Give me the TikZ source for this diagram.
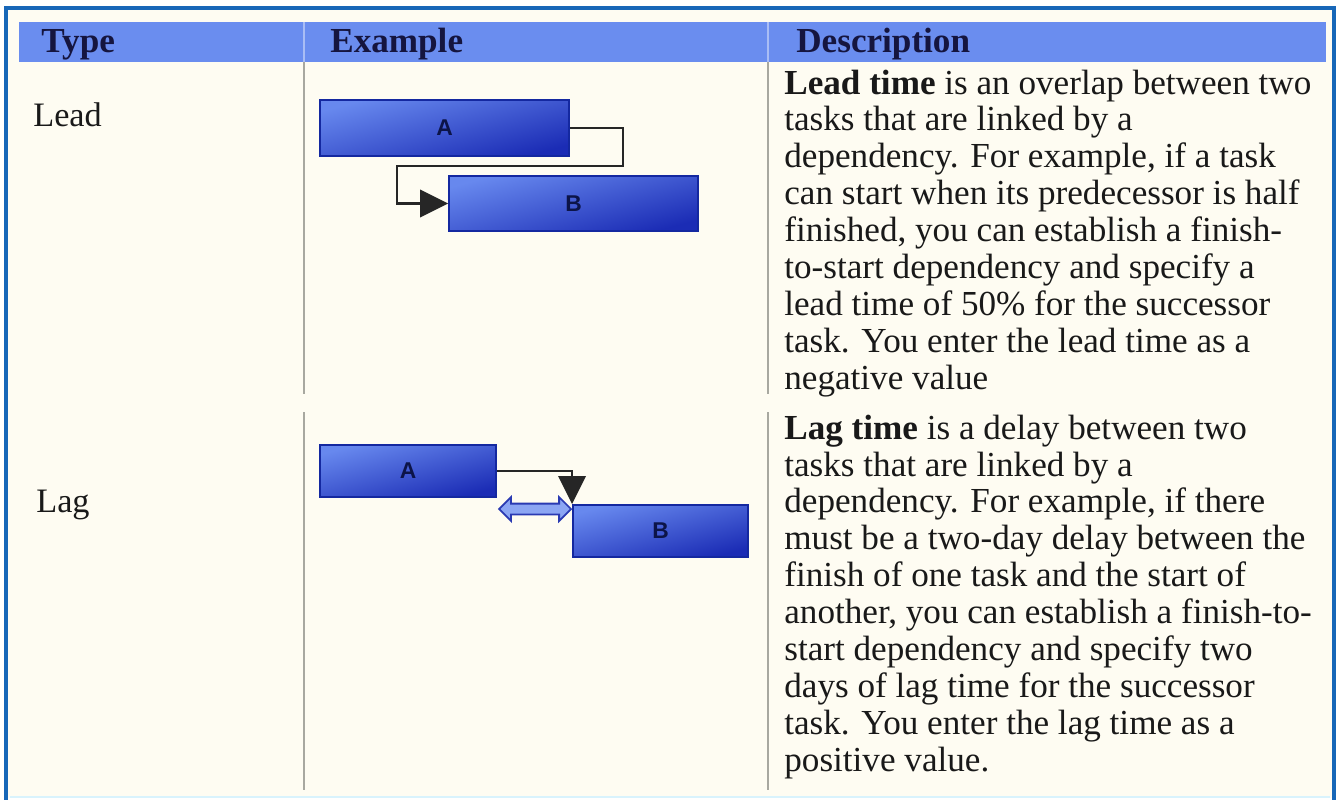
\documentclass[tikz,border=0pt]{standalone}
\usepackage{fontspec}
\setmainfont{Liberation Serif}
\setsansfont{Liberation Sans}
\usetikzlibrary{arrows.meta,shapes.arrows}
\definecolor{framebl}{HTML}{1767B8}
\definecolor{pagebg}{HTML}{FEFCF2}
\definecolor{headbl}{HTML}{6A8DEF}
\definecolor{headln}{HTML}{A9BDF5}
\definecolor{gridln}{HTML}{A8A8A0}
\definecolor{barlt}{HTML}{6788EE}
\definecolor{bardk}{HTML}{1B2CB5}
\definecolor{barln}{HTML}{1428A0}
\definecolor{bartxt}{HTML}{0C1448}
\definecolor{headtxt}{HTML}{15153F}
\definecolor{gapfill}{HTML}{8CA6F3}
\definecolor{gapln}{HTML}{2A3AB2}
\begin{document}
\begin{tikzpicture}[x=0.02cm,y=-0.02cm,
  task/.style={draw=barln,line width=1.1pt,left color=barlt,middle color=barlt,right color=bardk,shading angle=15,
    font=\sffamily\bfseries\fontsize{13}{15}\selectfont,text=bartxt,inner sep=0pt},
  colhead/.style={anchor=base west,inner sep=0pt,font=\bfseries\fontsize{20}{21}\selectfont,text=headtxt},
  typelabel/.style={anchor=base west,inner sep=0pt,font=\fontsize{19.5}{21}\selectfont,text=black!90},
  desc/.style={anchor=base west,inner sep=0pt,align=left,font=\fontsize{20}{20.98}\selectfont,text=black!90},
  link/.style={draw=black!85,line width=1.2pt,-{Triangle[length=0.56cm,width=0.55cm]}}]
  \useasboundingbox (0,0) rectangle (1337,800);
  \fill[white] (0,0) rectangle (1337,800);
  \fill[pagebg] (5,7) rectangle (1335,798);
  \draw[cyan!15,line width=1.2pt] (10,797) -- (1330,797);
  \draw[framebl,line width=2pt] (6,800) -- (6,8) -- (1334,8) -- (1334,800);

  \fill[headbl] (19,22) rectangle (1326,62);
  \draw[headln,line width=0.8pt] (304,22) -- (304,62);
  \draw[headln,line width=0.8pt] (768,22) -- (768,62);
  \draw[gridln,line width=1pt] (304,62) -- (304,394);
  \draw[gridln,line width=1pt] (304,412) -- (304,790);
  \draw[gridln,line width=1pt] (768,62) -- (768,394);
  \draw[gridln,line width=1pt] (768,412) -- (768,790);

  \node[colhead] (htype) at (41,53) {Type};
  \node[colhead] (hexample) at (330,53) {Example};
  \node[colhead] (hdesc) at (796,53) {Description};

  \node[typelabel] (lead) at (33,127) {Lead};
  \node[typelabel] (lag) at (36,512) {Lag};

  \node[task,minimum width=4.98cm,minimum height=1.12cm] (leada) at (444.5,128) {A};
  \node[task,minimum width=4.98cm,minimum height=1.1cm] (leadb) at (573.5,203.5) {B};
  \coordinate (leadturn) at (397,166);
  \draw[link] (leada.east) -- ++(53,0) |- (leadturn) |- (leadb.west);

  \node[task,minimum width=3.52cm,minimum height=1.04cm] (laga) at (408,471) {A};
  \node[task,minimum width=3.5cm,minimum height=1.04cm] (lagb) at (660.5,531) {B};
  \draw[link] (laga.east) -| (lagb.north west);
  \node[double arrow,draw=gapln,fill=gapfill,line width=1pt,minimum height=1.44cm,
    inner xsep=0pt,inner ysep=0.09cm,double arrow head extend=0.13cm] (laggap) at (535,509) {};

  \node[desc] (leaddesc) at (784,389) {\textbf{Lead time} is an overlap between two\\
    tasks that are linked by a\\
    dependency. For example, if a task\\
    can start when its predecessor is half\\
    finished, you can establish a finish-\\
    to-start dependency and specify a\\
    lead time of 50\% for the successor\\
    task. You enter the lead time as a\\
    negative value};
  \node[desc] (lagdesc) at (784,771) {\textbf{Lag time} is a delay between two\\
    tasks that are linked by a\\
    dependency. For example, if there\\
    must be a two-day delay between the\\
    finish of one task and the start of\\
    another, you can establish a finish-to-\\
    start dependency and specify two\\
    days of lag time for the successor\\
    task. You enter the lag time as a\\
    positive value.};
\end{tikzpicture}
\end{document}
